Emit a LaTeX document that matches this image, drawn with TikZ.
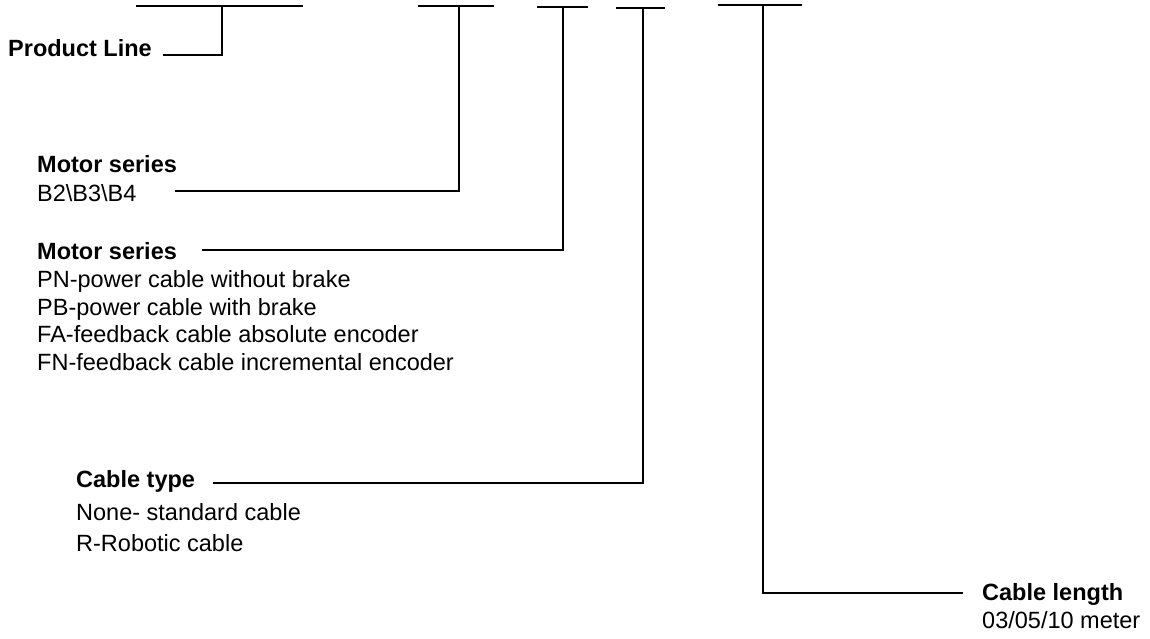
\documentclass[tikz,border=0pt]{standalone}
\usepackage{fontspec}
\setmainfont{Liberation Sans}
\tikzset{
  bar/.style={line width=2pt}, % the code fields along the top
  lead/.style={line width=1.3pt}, % leader lines down to the labels
  txt/.style={inner sep=0pt, anchor=base west, align=left,
    font=\fontsize{23.5}{27.4}\selectfont}, % plain label text
  % (base of a several-line label is its last line)
  head/.style={txt, font=\fontsize{23.5}{27.4}\selectfont\bfseries},
}

\begin{document}
\begin{tikzpicture}[x=1pt, y=-1pt]
    \useasboundingbox (0,0) rectangle (1150,639);

    % code fields
    \draw[bar] (136,6) -- (303,6);
    \draw[bar] (418,6) -- (494,6);
    \draw[bar] (537,7) -- (588,7);
    \draw[bar] (616,8) -- (665,8);
    \draw[bar] (718,5) -- (802,5);
    \coordinate (line)   at (222,6);
    \coordinate (series) at (459,6);
    \coordinate (kind)   at (563,7);
    \coordinate (type)   at (643,8);
    \coordinate (length) at (763,5);

    % labels
    \node[head] (pline) at (8,57) {Product Line};
    \node[head] (mser) at (37,172) {Motor series};
    \node[txt, at={([yshift=-29pt]mser.base west)}] (mserv) {B2\textbackslash B3\textbackslash B4};
    \node[head] (cab) at (37,259) {Motor series};
    \node[txt, at={([yshift=-111pt]cab.base west)}] (cabv)
    {PN-power cable without brake\\PB-power cable with brake\\
      FA-feedback cable absolute encoder\\FN-feedback cable incremental encoder};
    \node[head] (ctype) at (76,487) {Cable type};
    \node[txt, at={([yshift=-64pt]ctype.base west)}] (ctypev)
    {None- standard cable\\[3.6pt]R-Robotic cable};
    \node[head] (clen) at (982,600) {Cable length};
    \node[txt, at={([yshift=-28pt]clen.base west)}] (clenv) {03/05/10 meter};

    % leader ends
    \coordinate (pline-in) at (163,55);
    \coordinate (mser-in)  at (175,191);
    \coordinate (cab-in)   at (202,250);
    \coordinate (ctype-in) at (213,483);
    \coordinate (clen-in)  at (963,593);

    \draw[lead] (line) |- (pline-in);
    \draw[lead] (series) |- (mser-in);
    \draw[lead] (kind) |- (cab-in);
    \draw[lead] (type) |- (ctype-in);
    \draw[lead] (length) |- (clen-in);
  \end{tikzpicture}
\end{document}
